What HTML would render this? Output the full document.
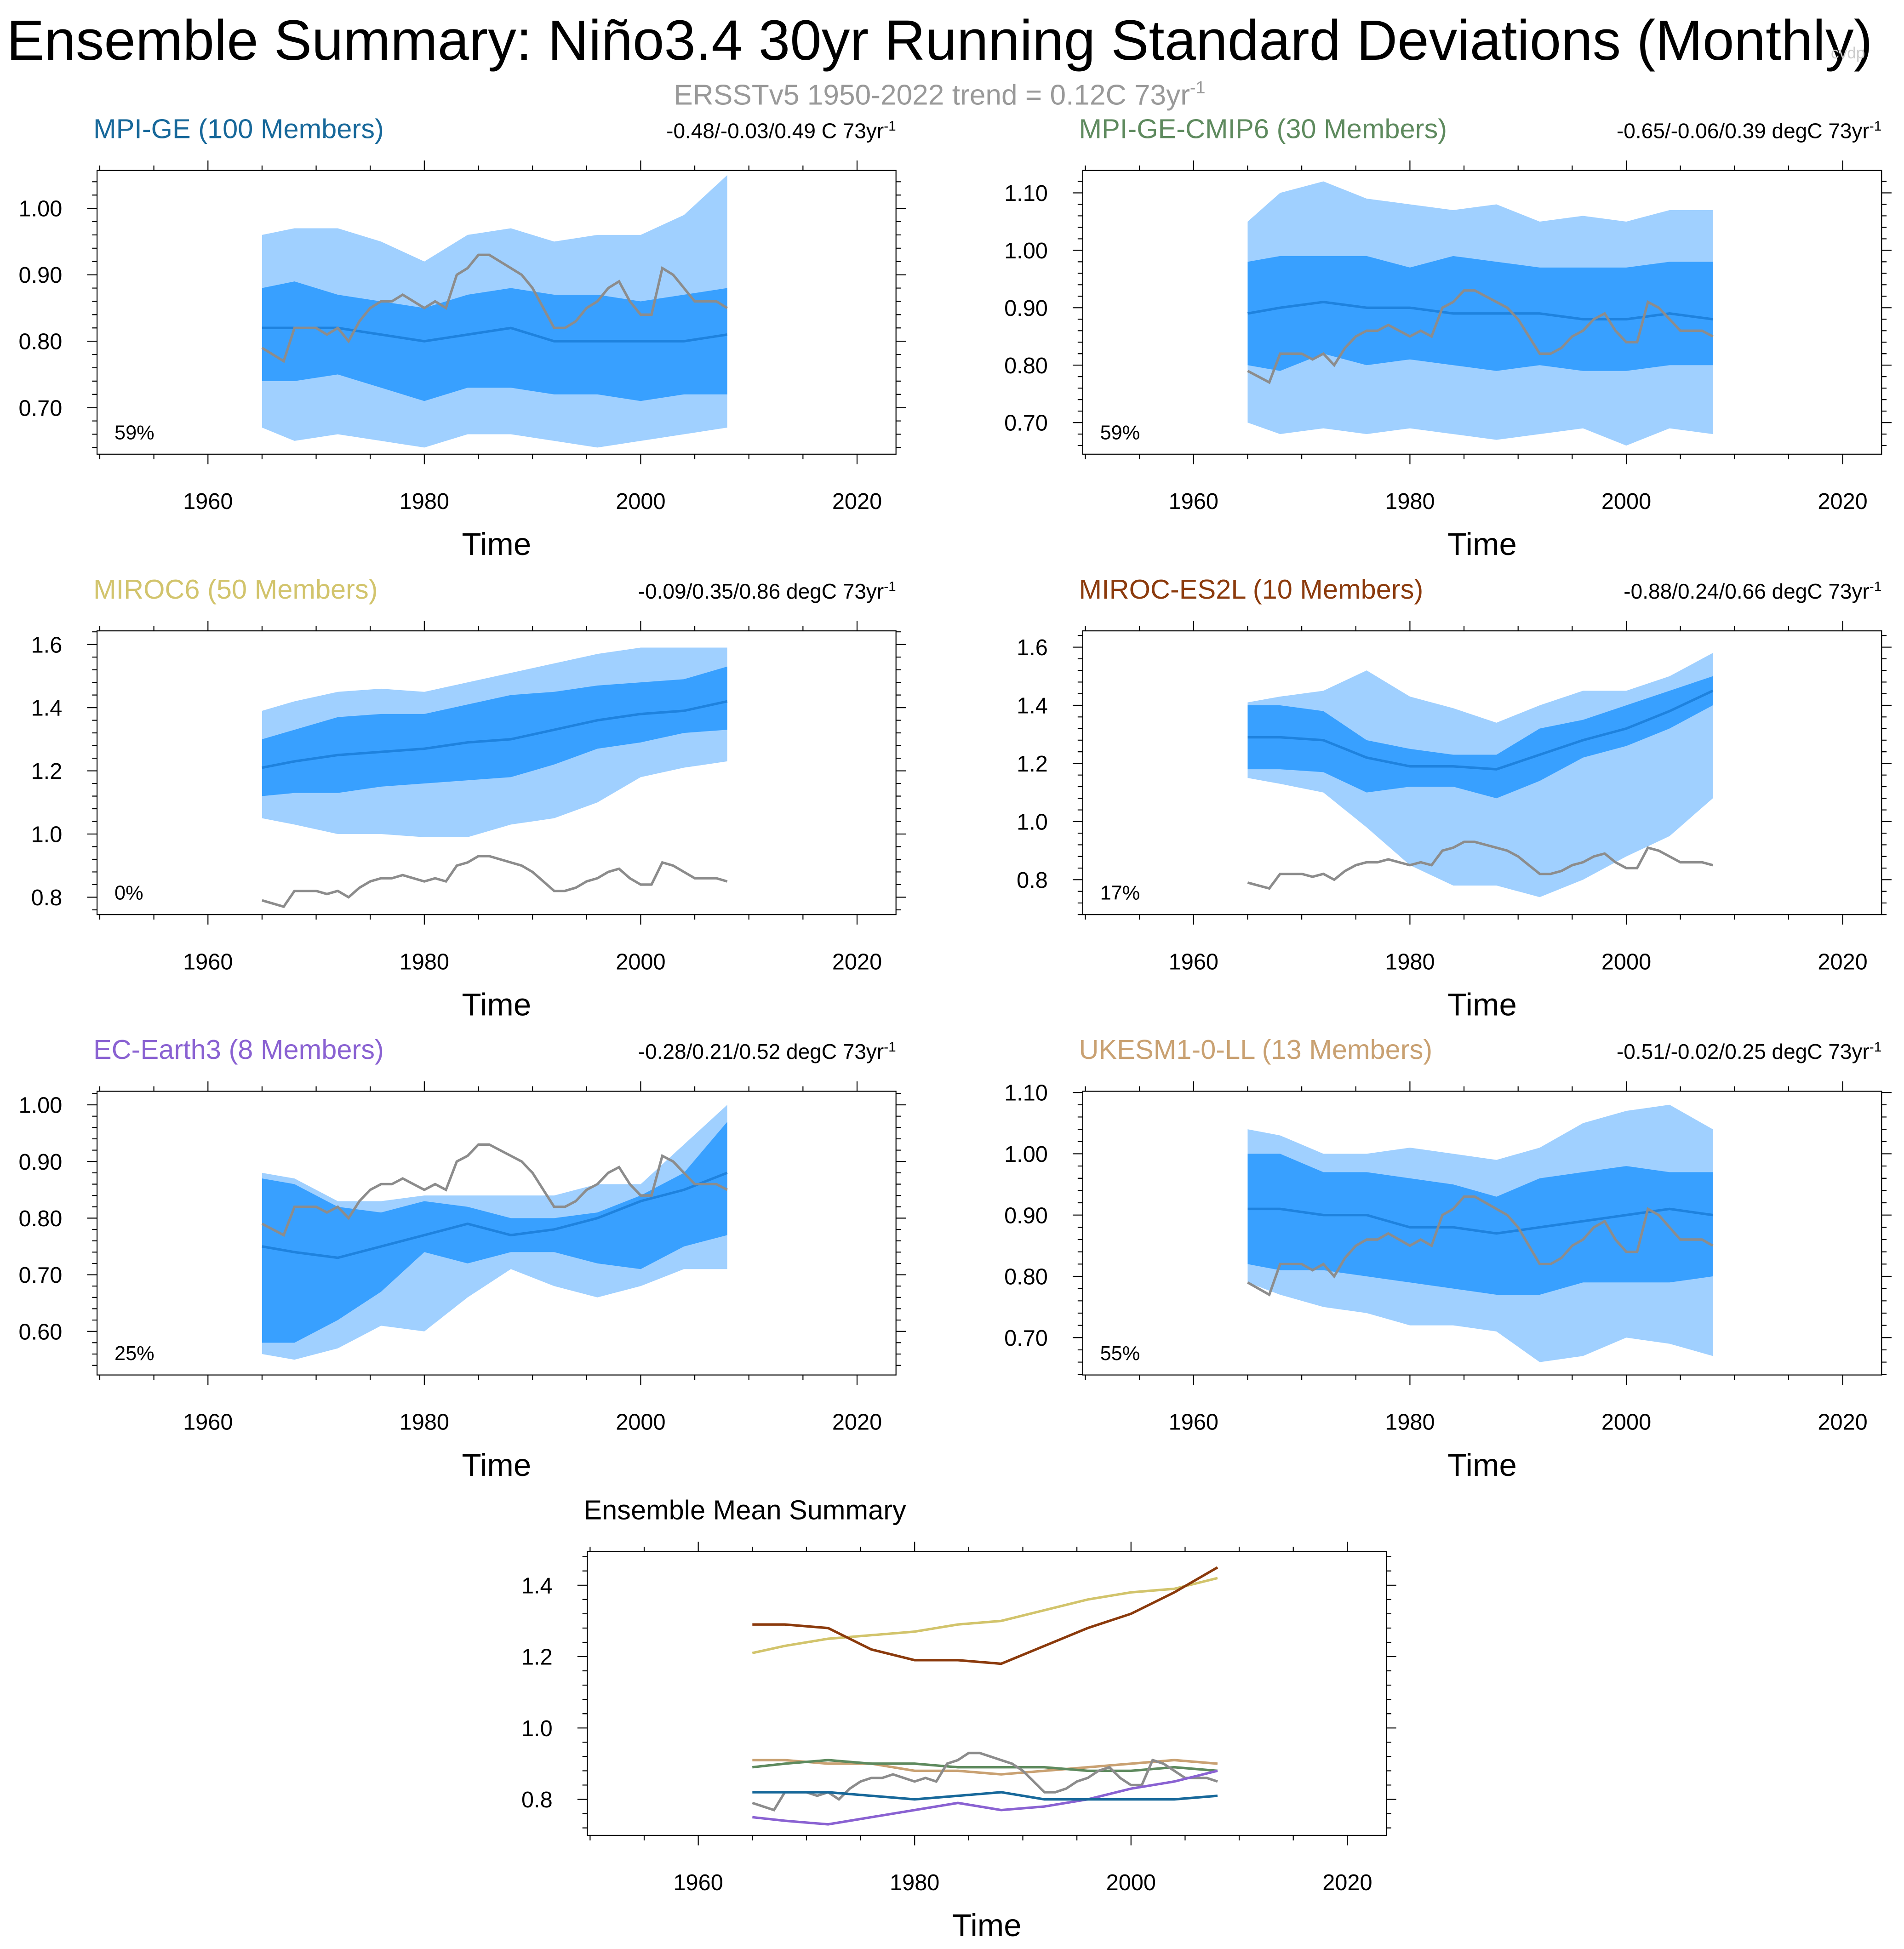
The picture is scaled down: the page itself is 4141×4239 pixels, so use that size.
<!DOCTYPE html>
<html><head><meta charset="utf-8">
<style>html,body{margin:0;padding:0;background:#fff}svg{display:block}text{font-family:"Liberation Sans",Arial,sans-serif}</style>
</head><body>
<svg id="c" width="4141" height="4239" viewBox="0 0 1530 1566.3" preserveAspectRatio="none" xmlns="http://www.w3.org/2000/svg">
<text x="755" y="48" text-anchor="middle" font-size="45.5" fill="#000">Ensemble Summary: Niño3.4 30yr Running Standard Deviations (Monthly)</text>
<text x="1485" y="47" text-anchor="middle" font-size="13" fill="#ccc">cvdp</text>
<text x="755" y="84" text-anchor="middle" font-size="23" fill="#999">ERSSTv5 1950-2022 trend = 0.12C 73yr<tspan dy="-9" font-size="14">-1</tspan></text>
</svg>
<script>
const years=[1965,1968,1972,1976,1980,1984,1988,1992,1996,2000,2004,2008];
const obsYears=[];for(let y=1965;y<=2008;y++)obsYears.push(y);
const obs=[0.79,0.78,0.77,0.82,0.82,0.82,0.81,0.82,0.80,0.83,0.85,0.86,0.86,0.87,0.86,0.85,0.86,0.85,0.90,0.91,0.93,0.93,0.92,0.91,0.90,0.88,0.85,0.82,0.82,0.83,0.85,0.86,0.88,0.89,0.86,0.84,0.84,0.91,0.90,0.88,0.86,0.86,0.86,0.85];
const mpiMean=[.82,.82,.82,.81,.80,.81,.82,.80,.80,.80,.80,.81];
const mpiHi1=[.88,.89,.87,.86,.85,.87,.88,.87,.87,.86,.87,.88];
const mpiLo1=[.74,.74,.75,.73,.71,.73,.73,.72,.72,.71,.72,.72];
const mpiHi2=[.96,.97,.97,.95,.92,.96,.97,.95,.96,.96,.99,1.05];
const mpiLo2=[.67,.65,.66,.65,.64,.66,.66,.65,.64,.65,.66,.67];
const c6Mean=[.89,.90,.91,.90,.90,.89,.89,.89,.88,.88,.89,.88];
const c6Hi1=[.98,.99,.99,.99,.97,.99,.98,.97,.97,.97,.98,.98];
const c6Lo1=[.80,.79,.82,.80,.81,.80,.79,.80,.79,.79,.80,.80];
const c6Hi2=[1.05,1.10,1.12,1.09,1.08,1.07,1.08,1.05,1.06,1.05,1.07,1.07];
const c6Lo2=[.70,.68,.69,.68,.69,.68,.67,.68,.69,.66,.69,.68];
const m6Mean=[1.21,1.23,1.25,1.26,1.27,1.29,1.30,1.33,1.36,1.38,1.39,1.42];
const m6Hi1=[1.30,1.33,1.37,1.38,1.38,1.41,1.44,1.45,1.47,1.48,1.49,1.53];
const m6Lo1=[1.12,1.13,1.13,1.15,1.16,1.17,1.18,1.22,1.27,1.29,1.32,1.33];
const m6Hi2=[1.39,1.42,1.45,1.46,1.45,1.48,1.51,1.54,1.57,1.59,1.59,1.59];
const m6Lo2=[1.05,1.03,1.00,1.00,0.99,0.99,1.03,1.05,1.10,1.18,1.21,1.23];
const esMean=[1.29,1.29,1.28,1.22,1.19,1.19,1.18,1.23,1.28,1.32,1.38,1.45];
const esHi1=[1.40,1.40,1.38,1.28,1.25,1.23,1.23,1.32,1.35,1.40,1.45,1.50];
const esLo1=[1.18,1.18,1.17,1.10,1.12,1.12,1.08,1.14,1.22,1.26,1.32,1.40];
const esHi2=[1.41,1.43,1.45,1.52,1.43,1.39,1.34,1.40,1.45,1.45,1.50,1.58];
const esLo2=[1.15,1.13,1.10,0.98,0.85,0.78,0.78,0.74,0.80,0.88,0.95,1.08];
const ecMean=[.75,.74,.73,.75,.77,.79,.77,.78,.80,.83,.85,.88];
const ecHi1=[.87,.86,.82,.81,.83,.82,.80,.80,.81,.84,.88,.97];
const ecLo1=[.58,.58,.62,.67,.74,.72,.74,.74,.72,.71,.75,.77];
const ecHi2=[.88,.87,.83,.83,.84,.84,.84,.84,.86,.86,.93,1.0];
const ecLo2=[.56,.55,.57,.61,.60,.66,.71,.68,.66,.68,.71,.71];
const ukMean=[.91,.91,.90,.90,.88,.88,.87,.88,.89,.90,.91,.90];
const ukHi1=[1.00,1.00,.97,.97,.96,.95,.93,.96,.97,.98,.97,.97];
const ukLo1=[.82,.81,.81,.80,.79,.78,.77,.77,.79,.79,.79,.80];
const ukHi2=[1.04,1.03,1.00,1.00,1.01,1.00,.99,1.01,1.05,1.07,1.08,1.04];
const ukLo2=[.79,.77,.75,.74,.72,.72,.71,.66,.67,.70,.69,.67];
const xTicks=[1960,1980,2000,2020];

const svg=document.getElementById('c');const NS='http://www.w3.org/2000/svg';
function mk(tag,at,parent){const e=document.createElementNS(NS,tag);for(const k in at)e.setAttribute(k,at[k]);(parent||svg).appendChild(e);return e;}
function txt(s,x,y,fs,fill,anchor,name,parent){const t=mk('text',{x:x,y:y,'font-size':fs,fill:fill,'text-anchor':anchor},parent);t.textContent=s;return t;}

function panel(o){
  const g=mk('g',{});
  
  
  const X0=o.x,X1=o.x+642,Y0=o.y,Y1=o.y+228;
  const sx=v=>X0+(v-1949.75)/(2023.6-1949.75)*(X1-X0);
  const sy=v=>Y1-(v-o.ymin)/(o.ymax-o.ymin)*(Y1-Y0);
  const line=(xs,ys)=>xs.map((x,i)=>(i?'L':'M')+sx(x).toFixed(2)+','+sy(ys[i]).toFixed(2)).join('');
  const band=(lo,hi)=>line(years,hi)+years.slice().reverse().map((x,i)=>'L'+sx(x).toFixed(2)+','+sy(lo[lo.length-1-i]).toFixed(2)).join('')+'Z';
  if(o.hi2){
    const b2=mk('path',{d:band(o.lo2,o.hi2),fill:'#a0d0ff'},g);
    
    
    const b1=mk('path',{d:band(o.lo1,o.hi1),fill:'#38a0ff'},g);
    
    
    const m=mk('path',{d:line(years,o.mean),fill:'none',stroke:'#1e82de','stroke-width':2},g);
    
    
    const ob=mk('path',{d:line(obsYears,obs),fill:'none',stroke:'#8c8c8c','stroke-width':2},g);
    
    
  }
  if(o.series){o.series.forEach(s=>{
    const p=mk('path',{d:s.d==='obs'?line(obsYears,obs):line(years,s.d),fill:'none',stroke:s.c,'stroke-width':2},g);
    
    
  });}
  const fr=mk('rect',{x:X0,y:Y0,width:X1-X0,height:Y1-Y0,fill:'none',stroke:'#000','stroke-width':0.8},g);
  
  
  let tk='';
  for(let yr=1950;yr<=2020;yr+=5){const x=sx(yr),L=yr%20===0?8:4;tk+=`M${x},${Y1}v${L}M${x},${Y0}v${-L}`;}
  for(let v=Math.ceil(o.ymin/o.minor-1e-6)*o.minor;v<=o.ymax+1e-9;v+=o.minor){const y=sy(v);const maj=Math.abs(v/o.major-Math.round(v/o.major))<1e-6;const L=maj?8:4;tk+=`M${X0},${y}h${-L}M${X1},${y}h${L}`;}
  const tp=mk('path',{d:tk,stroke:'#000','stroke-width':0.8,fill:'none'},g);
  
  
  xTicks.forEach(t=>txt(String(t),sx(t),Y1+44,18,'#000','middle','x-tick-label',g));
  o.yt.forEach(t=>txt(t.toFixed(o.dec),X0-28,sy(t)+6.5,18,'#000','end','y-tick-label',g));
  txt('Time',(X0+X1)/2,Y1+81,25.5,'#000','middle','x-axis-title',g);
  txt(o.title,o.titleX!==undefined?o.titleX:X0-3,Y0-26,22,o.tc,'start','panel-title',g);
  if(o.ann){const a=txt(o.ann,X1,Y0-26,17,'#000','end','trend-annotation',g);const ts=mk('tspan',{dy:-6,'font-size':11},a);ts.textContent='-1';}
  if(o.pct)txt(o.pct,X0+14,Y1-12,16,'#000','start','percent-label',g);
}
const L=78,R=870;
panel({name:'mpi-ge',x:L,y:137,ymin:.63,ymax:1.057,major:.1,minor:.02,dec:2,yt:[.7,.8,.9,1.0],title:'MPI-GE (100 Members)',tc:'#17689a',ann:'-0.48/-0.03/0.49 C 73yr',pct:'59%',mean:mpiMean,hi1:mpiHi1,lo1:mpiLo1,hi2:mpiHi2,lo2:mpiLo2});
panel({name:'mpi-ge-cmip6',x:R,y:137,ymin:.645,ymax:1.139,major:.1,minor:.02,dec:2,yt:[.7,.8,.9,1.0,1.1],title:'MPI-GE-CMIP6 (30 Members)',tc:'#5e8a5e',ann:'-0.65/-0.06/0.39 degC 73yr',pct:'59%',mean:c6Mean,hi1:c6Hi1,lo1:c6Lo1,hi2:c6Hi2,lo2:c6Lo2});
panel({name:'miroc6',x:L,y:507,ymin:.745,ymax:1.643,major:.2,minor:.04,dec:1,yt:[.8,1.0,1.2,1.4,1.6],title:'MIROC6 (50 Members)',tc:'#d2c46c',ann:'-0.09/0.35/0.86 degC 73yr',pct:'0%',mean:m6Mean,hi1:m6Hi1,lo1:m6Lo1,hi2:m6Hi2,lo2:m6Lo2});
panel({name:'miroc-es2l',x:R,y:507,ymin:.68,ymax:1.656,major:.2,minor:.04,dec:1,yt:[.8,1.0,1.2,1.4,1.6],title:'MIROC-ES2L (10 Members)',tc:'#8b3a0c',ann:'-0.88/0.24/0.66 degC 73yr',pct:'17%',mean:esMean,hi1:esHi1,lo1:esLo1,hi2:esHi2,lo2:esLo2});
panel({name:'ec-earth3',x:L,y:877,ymin:.523,ymax:1.024,major:.1,minor:.02,dec:2,yt:[.6,.7,.8,.9,1.0],title:'EC-Earth3 (8 Members)',tc:'#8a62d2',ann:'-0.28/0.21/0.52 degC 73yr',pct:'25%',mean:ecMean,hi1:ecHi1,lo1:ecLo1,hi2:ecHi2,lo2:ecLo2});
panel({name:'ukesm1-0-ll',x:R,y:877,ymin:.639,ymax:1.102,major:.1,minor:.02,dec:2,yt:[.7,.8,.9,1.0,1.1],title:'UKESM1-0-LL (13 Members)',tc:'#c9a172',ann:'-0.51/-0.02/0.25 degC 73yr',pct:'55%',mean:ukMean,hi1:ukHi1,lo1:ukLo1,hi2:ukHi2,lo2:ukLo2});
panel({name:'ensemble-mean-summary',x:472,y:1247,ymin:.699,ymax:1.494,major:.2,minor:.04,dec:1,yt:[.8,1.0,1.2,1.4],title:'Ensemble Mean Summary',tc:'#000',
 series:[{n:'miroc6',d:m6Mean,c:'#d2c46c'},{n:'miroc-es2l',d:esMean,c:'#8b3a0c'},{n:'ukesm1-0-ll',d:ukMean,c:'#c9a172'},{n:'mpi-ge-cmip6',d:c6Mean,c:'#5e8a5e'},{n:'observed',d:'obs',c:'#8c8c8c'},{n:'ec-earth3',d:ecMean,c:'#8a62d2'},{n:'mpi-ge',d:mpiMean,c:'#17689a'}]});
</script>
</body></html>
